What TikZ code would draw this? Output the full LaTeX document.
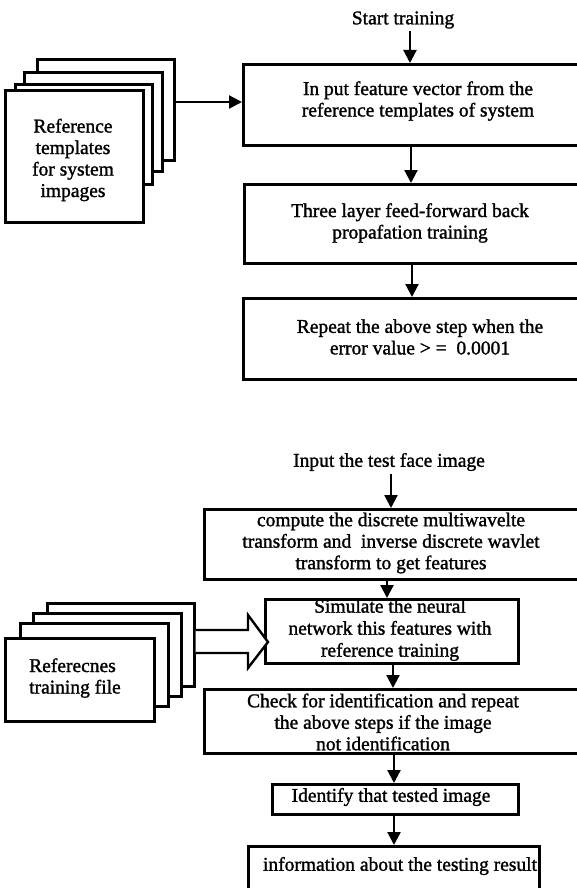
\documentclass[tikz,border=0pt]{standalone}
\usepackage{fontspec}
\setmainfont{Liberation Serif}
\newfontfamily\heavyserif{Liberation Serif}[FakeBold=1.4]
\usetikzlibrary{arrows.meta}
\begin{document}
\begin{tikzpicture}[x=1pt,y=-1pt,
  box/.style={draw, line width=2.6pt, fill=white, inner sep=0pt, anchor=north west},
  txt/.style={align=center, inner sep=0pt, font=\heavyserif\fontsize{19.5}{21.5}\selectfont},
  arr/.style={line width=2.2pt, -{Triangle[length=13pt,width=13pt]}},
  hollow/.style={line width=2.4pt, fill=white, line join=miter}
]
\useasboundingbox (0,0) rectangle (577,888);
\clip (0,0) rectangle (577,888);

% ---------- top part ----------
\node[txt] (start) at (403,20) {Start training};
\node[box, minimum width=360pt, minimum height=81pt] (b1) at (242,63) {};
\node[box, minimum width=360pt, minimum height=79pt] (b2) at (243,183) {};
\node[box, minimum width=360pt, minimum height=81pt] (b3) at (242,297) {};
\node[txt] (t1) at (418,101) {In put feature vector from the\\reference templates of system};
\node[txt] (t2) at (410,223) {Three layer feed-forward back\\propafation training};
\node[txt] (t3) at (420,337) {Repeat the above step when the\\error value > =\ \ 0.0001};

\coordinate (a1) at (410,31);
\draw[arr] (a1) -- (a1 |- b1.north);
\coordinate (a2) at (411,0);
\draw[arr] (a2 |- b1.south) -- (a2 |- b2.north);
\coordinate (a3) at (412,0);
\draw[arr] (a3 |- b2.south) -- (a3 |- b3.north);

\node[box, minimum width=137pt, minimum height=101pt] (s4) at (36,58) {};
\node[box, minimum width=138pt, minimum height=99pt] (s3) at (23,71) {};
\node[box, minimum width=137pt, minimum height=100pt] (s2) at (14,83) {};
\node[box, minimum width=138pt, minimum height=132pt] (s1) at (4,89) {};
\node[txt] (st) at (73,160) {Reference\\templates\\for system\\impages};
\coordinate (a0) at (0,102);
\draw[arr] (s4.east |- a0) -- (b1.west |- a0);

% ---------- bottom part ----------
\node[txt] (inp) at (389,462) {Input the test face image};
\node[box, minimum width=400pt, minimum height=70pt] (c1) at (203,508) {};
\node[box, minimum width=253pt, minimum height=64pt] (c2) at (264,598) {};
\node[box, minimum width=400pt, minimum height=64pt] (c3) at (203,688) {};
\node[box, minimum width=246pt, minimum height=30pt] (c4) at (271,783) {};
\node[box, minimum width=291pt, minimum height=60pt] (c5) at (247,845) {};

\node[box, minimum width=147pt, minimum height=83pt] (r4) at (46,602) {};
\node[box, minimum width=148pt, minimum height=83pt] (r3) at (32,612) {};
\node[box, minimum width=148pt, minimum height=83pt] (r2) at (19,622) {};
\node[box, minimum width=149pt, minimum height=83pt] (r1) at (4,637) {};
\node[txt, align=left, anchor=west] (rt) at (29,678) {Referecnes\\training file};

\coordinate (a4) at (391,474);
\draw[arr] (a4) -- (a4 |- c1.north);
\coordinate (a5) at (387,0);
\draw[arr] (a5 |- c1.south) -- (a5 |- c2.north);
\coordinate (a6) at (393,0);
\draw[arr] (a6 |- c2.south) -- (a6 |- c3.north);
\coordinate (a7) at (394,0);
\draw[arr] (a7 |- c3.south) -- (a7 |- c4.north);
\draw[arr] (a7 |- c4.south) -- (a7 |- c5.north);

\coordinate (tip) at (268,642);
\draw[hollow] (r4.east |- 0,630) -- (248,630) -- (248,615) -- (tip) -- (248,668) -- (248,653) -- (r4.east |- 0,653);

\node[txt] (u1) at (391,543) {compute the discrete multiwavelte\\transform and\ \ inverse discrete wavlet\\transform to get features};
\node[txt, font=\heavyserif\fontsize{19.5}{22}\selectfont] (u2) at (390,630) {Simulate the neural\\network this features with\\reference training};
\node[txt] (u3) at (383,722) {Check for identification and repeat\\the above steps if the image\\not identification};
\node[txt] (u4) at (391,797) {Identify that tested image};
\node[txt] (u5) at (400,866) {information about the testing result};
\end{tikzpicture}
\end{document}
